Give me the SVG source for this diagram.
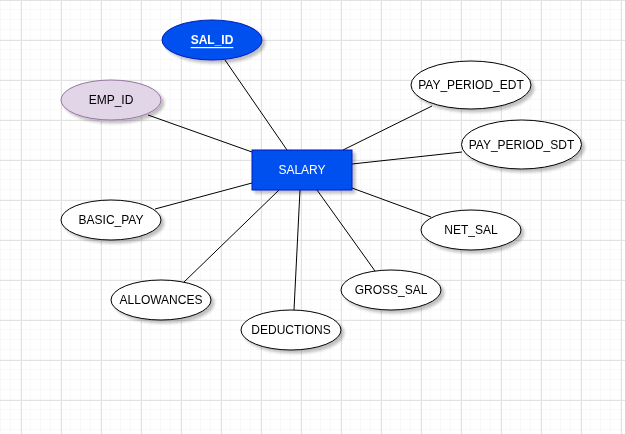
<svg xmlns="http://www.w3.org/2000/svg" width="625" height="434" viewBox="0 0 625 434">
<defs>
<pattern id="minor" x="1" y="0" width="10" height="10" patternUnits="userSpaceOnUse">
<path d="M10 0V10M0 10H10" fill="none" stroke="#f3f3f3" stroke-width="1"/>
</pattern>
<pattern id="major" x="21" y="0" width="40" height="40" patternUnits="userSpaceOnUse">
<path d="M0.5 0V40M0 0.5H40" fill="none" stroke="#e2e2e2" stroke-width="1"/>
</pattern>
<filter id="sh" x="-20%" y="-20%" width="150%" height="160%">
<feGaussianBlur in="SourceAlpha" stdDeviation="1.5"/>
<feOffset dx="2.5" dy="3" result="b"/>
<feComponentTransfer><feFuncA type="linear" slope="0.25"/></feComponentTransfer>
<feMerge><feMergeNode/><feMergeNode in="SourceGraphic"/></feMerge>
</filter>
</defs>
<style>
.e{fill:#ffffff;stroke:#000000;stroke-width:1}
.t{font-family:"Liberation Sans",Arial,sans-serif;font-size:12px;fill:#000000;text-anchor:middle;dominant-baseline:central}
.w{fill:#ffffff}
.c line{stroke:#000000;stroke-width:1}
</style>
<rect width="625" height="434" fill="#ffffff"/>
<rect width="625" height="434" fill="url(#minor)"/>
<rect width="625" height="434" fill="url(#major)"/>
<g class="c" id="connectors">
<line x1="225" y1="60" x2="287" y2="150"/>
<line x1="148" y1="115" x2="252" y2="152"/>
<line x1="432" y1="106" x2="343" y2="150"/>
<line x1="462" y1="152" x2="352" y2="164"/>
<line x1="431" y1="217" x2="352" y2="188"/>
<line x1="375" y1="271" x2="317" y2="190"/>
<line x1="294" y1="310" x2="300" y2="190"/>
<line x1="183" y1="283" x2="279" y2="190"/>
<line x1="155" y1="209" x2="252" y2="183"/>
</g>
<g id="SALARY" filter="url(#sh)">
<rect x="252" y="150" width="100" height="40" fill="#0050ef" stroke="#001dbc"/>
<text class="t w" x="302" y="170">SALARY</text>
</g>
<g id="SAL_ID" filter="url(#sh)">
<ellipse cx="212" cy="40" rx="50" ry="20" fill="#0050ef" stroke="#001dbc"/>
<text class="t w" x="212" y="40" font-weight="bold" text-decoration="underline">SAL_ID</text>
</g>
<g id="EMP_ID" filter="url(#sh)">
<ellipse cx="111" cy="100" rx="50" ry="20" fill="#e1d5e7" stroke="#9673a6"/>
<text class="t" x="111" y="100">EMP_ID</text>
</g>
<g id="PAY_PERIOD_EDT" filter="url(#sh)">
<ellipse class="e" cx="471" cy="85" rx="60" ry="24"/>
<text class="t" x="471" y="85">PAY_PERIOD_EDT</text>
</g>
<g id="PAY_PERIOD_SDT" filter="url(#sh)">
<ellipse class="e" cx="521.5" cy="144.5" rx="60" ry="24.5"/>
<text class="t" x="521.5" y="144.5">PAY_PERIOD_SDT</text>
</g>
<g id="BASIC_PAY" filter="url(#sh)">
<ellipse class="e" cx="111" cy="220" rx="50" ry="20"/>
<text class="t" x="111" y="220">BASIC_PAY</text>
</g>
<g id="ALLOWANCES" filter="url(#sh)">
<ellipse class="e" cx="161" cy="300" rx="50" ry="20"/>
<text class="t" x="161" y="300">ALLOWANCES</text>
</g>
<g id="DEDUCTIONS" filter="url(#sh)">
<ellipse class="e" cx="291" cy="330" rx="50" ry="20"/>
<text class="t" x="291" y="330">DEDUCTIONS</text>
</g>
<g id="GROSS_SAL" filter="url(#sh)">
<ellipse class="e" cx="391" cy="290" rx="50" ry="20"/>
<text class="t" x="391" y="290">GROSS_SAL</text>
</g>
<g id="NET_SAL" filter="url(#sh)">
<ellipse class="e" cx="471" cy="230" rx="50" ry="20"/>
<text class="t" x="471" y="230">NET_SAL</text>
</g>
</svg>
